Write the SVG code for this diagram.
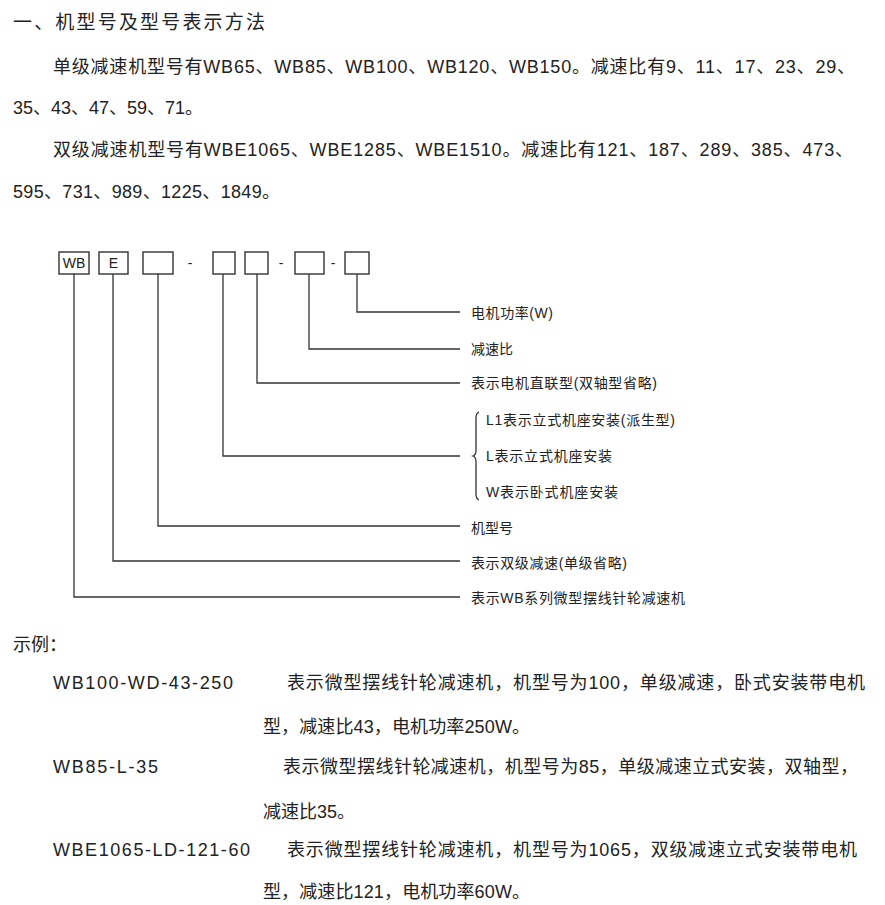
<svg xmlns="http://www.w3.org/2000/svg" width="885" height="905" viewBox="0 0 885 905">
<style>
text{font-family:"Liberation Sans","Noto Sans CJK SC",sans-serif;fill:#222}
.h{font-size:19px}
.p{font-size:18px}
.l{font-size:14px}
.b{font-size:14px;text-anchor:middle}
.box{fill:#fff;stroke:#333;stroke-width:1.4}
.c{fill:none;stroke:#333;stroke-width:1.3}
</style>
<rect width="885" height="905" fill="#fff"/>
<g id="intro">
<text class="h" x="13" y="29" textLength="252" lengthAdjust="spacing">一、机型号及型号表示方法</text>
<text class="p" x="53" y="73" textLength="802" lengthAdjust="spacing">单级减速机型号有WB65、WB85、WB100、WB120、WB150。减速比有9、11、17、23、29、</text>
<text class="p" x="13" y="114" textLength="190" lengthAdjust="spacing">35、43、47、59、71。</text>
<text class="p" x="53" y="156" textLength="800" lengthAdjust="spacing">双级减速机型号有WBE1065、WBE1285、WBE1510。减速比有121、187、289、385、473、</text>
<text class="p" x="13" y="198" textLength="267" lengthAdjust="spacing">595、731、989、1225、1849。</text>
</g>
<g id="connectors">
<path class="c" d="M357,274 V312 H460"/>
<path class="c" d="M309,274 V349 H460"/>
<path class="c" d="M257,274 V383 H460"/>
<path class="c" d="M223,274 V456 H460"/>
<path class="c" d="M158,274 V526 H460"/>
<path class="c" d="M113,274 V561 H460"/>
<path class="c" d="M74,274 V597 H460"/>
<path class="c" d="M479,412 Q476,413 476,418 L476,450 Q476,455 473,456 Q476,457 476,462 L476,494 Q476,499 479,500"/>
</g>
<g id="code">
<g id="box-wb"><rect class="box" x="59" y="252" width="30" height="22"/><text class="b" x="74" y="268">WB</text></g>
<g id="box-e"><rect class="box" x="99" y="252" width="29" height="22"/><text class="b" x="113.5" y="268">E</text></g>
<g id="box-type"><rect class="box" x="143" y="252" width="30" height="22"/></g>
<text class="b" x="190" y="268">-</text>
<g id="box-mount"><rect class="box" x="213" y="252" width="22" height="22"/></g>
<g id="box-motor"><rect class="box" x="245" y="252" width="23" height="22"/></g>
<text class="b" x="281" y="268">-</text>
<g id="box-ratio"><rect class="box" x="295" y="252" width="29" height="22"/></g>
<text class="b" x="333" y="268">-</text>
<g id="box-power"><rect class="box" x="345" y="252" width="24" height="22"/></g>
</g>
<g id="labels">
<g id="lbl-power"><text class="l" x="471" y="318" textLength="82" lengthAdjust="spacing">电机功率(W)</text></g>
<g id="lbl-ratio"><text class="l" x="471" y="354" textLength="42" lengthAdjust="spacing">减速比</text></g>
<g id="lbl-motor"><text class="l" x="471" y="388" textLength="186" lengthAdjust="spacing">表示电机直联型(双轴型省略)</text></g>
<g id="lbl-mount">
<text class="l" x="486" y="425" textLength="189" lengthAdjust="spacing">L1表示立式机座安装(派生型)</text>
<text class="l" x="486" y="461" textLength="126" lengthAdjust="spacing">L表示立式机座安装</text>
<text class="l" x="486" y="497" textLength="132" lengthAdjust="spacing">W表示卧式机座安装</text>
</g>
<g id="lbl-type"><text class="l" x="471" y="533" textLength="42" lengthAdjust="spacing">机型号</text></g>
<g id="lbl-e"><text class="l" x="471" y="568" textLength="156" lengthAdjust="spacing">表示双级减速(单级省略)</text></g>
<g id="lbl-wb"><text class="l" x="471" y="603" textLength="214" lengthAdjust="spacing">表示WB系列微型摆线针轮减速机</text></g>
</g>
<g id="examples">
<text class="p" x="13" y="651">示例：</text>
<text class="p" x="53" y="689" textLength="180" lengthAdjust="spacing">WB100-WD-43-250</text>
<text class="p" x="287" y="689" textLength="578" lengthAdjust="spacing">表示微型摆线针轮减速机，机型号为100，单级减速，卧式安装带电机</text>
<text class="p" x="263" y="733" textLength="267" lengthAdjust="spacing">型，减速比43，电机功率250W。</text>
<text class="p" x="53" y="773" textLength="105" lengthAdjust="spacing">WB85-L-35</text>
<text class="p" x="283" y="773" textLength="575" lengthAdjust="spacing">表示微型摆线针轮减速机，机型号为85，单级减速立式安装，双轴型，</text>
<text class="p" x="263" y="818">减速比35。</text>
<text class="p" x="53" y="856" textLength="197" lengthAdjust="spacing">WBE1065-LD-121-60</text>
<text class="p" x="287" y="856" textLength="570" lengthAdjust="spacing">表示微型摆线针轮减速机，机型号为1065，双级减速立式安装带电机</text>
<text class="p" x="263" y="898" textLength="267" lengthAdjust="spacing">型，减速比121，电机功率60W。</text>
</g>
</svg>
